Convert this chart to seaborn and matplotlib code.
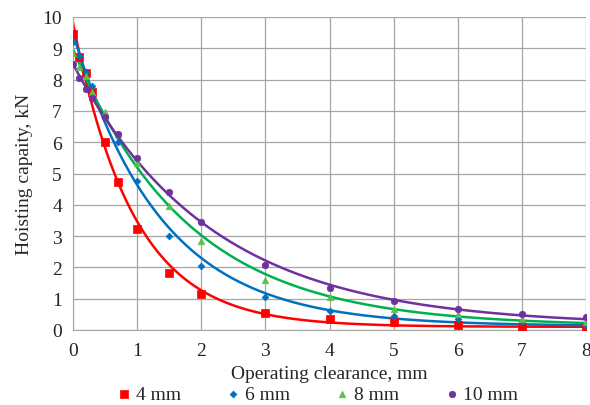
import numpy as np
import pandas as pd
import matplotlib
matplotlib.use("Agg")
import matplotlib.pyplot as plt
import seaborn as sns

# clearance values, mm
clearance = [0, 0.1, 0.2, 0.3, 0.5, 0.7, 1, 1.5, 2, 3, 4, 5, 6, 7, 8]
# hoisting capacity, kN, per blade width
cap_4mm = [9.45, 8.72, 8.2, 7.6, 6.02, 4.73, 3.22, 1.82, 1.15, 0.55, 0.35, 0.25, 0.15, 0.1, 0.07]
cap_6mm = [9.2, 8.75, 8.25, 7.8, 6.8, 6.0, 4.75, 3.0, 2.05, 1.05, 0.6, 0.45, 0.35, 0.25, 0.15]
cap_8mm = [8.85, 8.4, 8.1, 7.6, 6.95, 6.25, 5.35, 3.95, 2.85, 1.6, 1.05, 0.68, 0.5, 0.35, 0.25]
cap_10mm = [8.5, 8.05, 7.7, 7.4, 6.8, 6.25, 5.5, 4.4, 3.45, 2.08, 1.35, 0.92, 0.68, 0.52, 0.4]

series = {"4 mm": cap_4mm, "6 mm": cap_6mm, "8 mm": cap_8mm, "10 mm": cap_10mm}
colors = {"4 mm": "#FF0000", "6 mm": "#0070C0", "8 mm": "#00B050", "10 mm": "#7030A0"}
marker_colors = {"4 mm": "#FF0000", "6 mm": "#0070C0", "8 mm": "#5CBF4A", "10 mm": "#7030A0"}
markers = {"4 mm": "s", "6 mm": "D", "8 mm": "^", "10 mm": "o"}
msizes = {"4 mm": 30, "6 mm": 12, "8 mm": 22, "10 mm": 22}


def fit_trend(x, y):
    # a*exp(-b x) + c, b by grid search, a and c by least squares
    x = np.asarray(x, float)
    y = np.asarray(y, float)
    best = None
    for b in np.linspace(0.05, 3, 600):
        A = np.column_stack([np.exp(-b * x), np.ones_like(x)])
        coef, *_ = np.linalg.lstsq(A, y, rcond=None)
        err = np.sum((A @ coef - y) ** 2)
        if best is None or err < best[0]:
            best = (err, b, coef)
    _, b, coef = best
    xs = np.linspace(0, 8, 300)
    return xs, coef[0] * np.exp(-b * xs) + coef[1]


points = pd.concat(
    [pd.DataFrame({"x": clearance, "y": v, "width": k}) for k, v in series.items()],
    ignore_index=True,
)
curves = []
for k, v in series.items():
    xs, ys = fit_trend(clearance, v)
    curves.append(pd.DataFrame({"x": xs, "y": ys, "width": k}))
curves = pd.concat(curves, ignore_index=True)

sns.set_style("white")
plt.rcParams["font.family"] = ["Liberation Serif", "DejaVu Serif"]

fig = plt.figure(figsize=(5.9, 4.06), dpi=100)
ax = fig.add_axes([73 / 590, 1 - 331 / 406, 513 / 590, 313 / 406])

sns.lineplot(data=curves, x="x", y="y", hue="width", palette=colors,
             linewidth=1.8, legend=False, ax=ax, zorder=2)
for k in series:
    sns.scatterplot(data=points[points["width"] == k], x="x", y="y",
                    color=marker_colors[k], marker=markers[k], s=msizes[k],
                    edgecolor=marker_colors[k], linewidth=0.5, ax=ax,
                    label=k, zorder=3)

ax.set_xlim(0, 8)
ax.set_ylim(0, 10)
ax.set_xticks(range(0, 9))
ax.set_yticks(range(0, 11))
ax.grid(True, color="#A6A6A6", linewidth=0.9)
ax.set_axisbelow(True)
for side in ["top", "right"]:
    ax.spines[side].set_visible(False)
for side in ["left", "bottom"]:
    ax.spines[side].set_color("#A6A6A6")
ax.tick_params(axis="both", length=4, color="#A6A6A6", labelsize=14)
ax.tick_params(axis="x", pad=5)
ax.tick_params(axis="y", pad=4)
ax.set_xlabel("Operating clearance, mm", fontsize=14, labelpad=4)
ax.set_ylabel("Hoisting capaity, kN", fontsize=14, labelpad=7)

ax.legend(loc="center", bbox_to_anchor=(0.478, -0.205), ncol=4,
          frameon=False, fontsize=14, handlelength=0.6, handletextpad=0.3,
          columnspacing=2.4, borderpad=0.1, markerscale=1.0)

fig.savefig("out.png", dpi=100)
